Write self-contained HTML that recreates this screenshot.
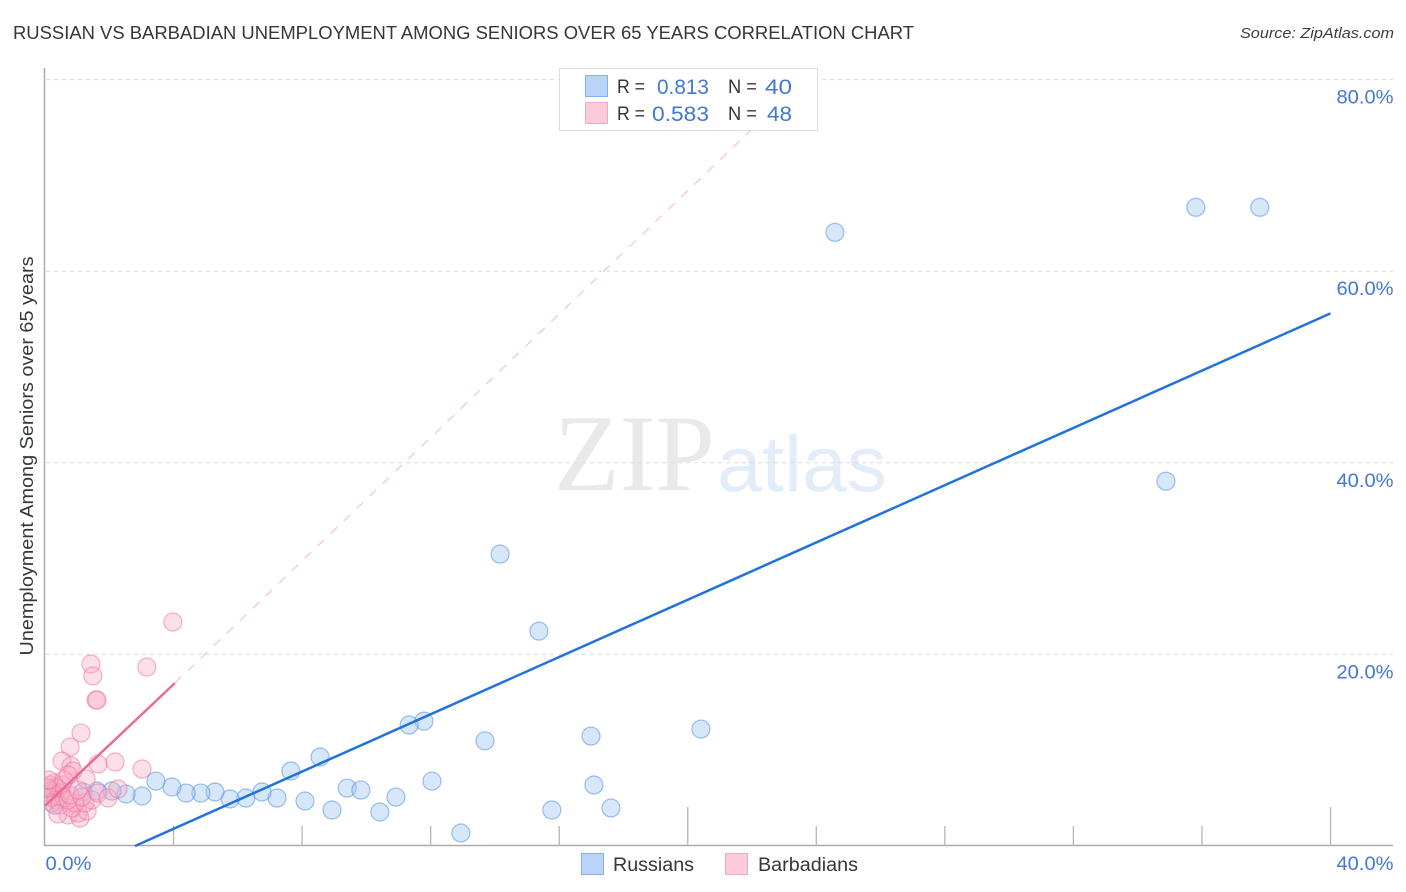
<!DOCTYPE html>
<html lang="en">
<head>
<meta charset="utf-8">
<title>Russian vs Barbadian Unemployment Among Seniors Over 65 Years Correlation Chart</title>
<style>
html,body{margin:0;padding:0;background:#fff;width:1406px;height:892px;overflow:hidden}
svg{display:block;font-family:"Liberation Sans",sans-serif}
</style>
</head>
<body>
<svg id="chart" width="1406" height="892" viewBox="0 0 1406 892" xmlns="http://www.w3.org/2000/svg">
  <defs>
    <clipPath id="plot-clip"><rect x="45" y="60" width="1350" height="786"/></clipPath>
  </defs>
  <text x="13" y="39" font-size="18.5" fill="#33373b" textLength="901" lengthAdjust="spacingAndGlyphs">RUSSIAN VS BARBADIAN UNEMPLOYMENT AMONG SENIORS OVER 65 YEARS CORRELATION CHART</text>
  <text x="1394" y="38" font-size="15" font-style="italic" fill="#3a3d40" text-anchor="end" textLength="154" lengthAdjust="spacingAndGlyphs">Source: ZipAtlas.com</text>

  <g>
    <text x="554" y="490" font-family="'Liberation Serif',serif" font-size="109" fill="#e9e9e9" textLength="161" lengthAdjust="spacingAndGlyphs">ZIP</text>
    <text x="717" y="491" font-size="79" fill="#e3ecf9" textLength="170" lengthAdjust="spacingAndGlyphs">atlas</text>
  </g>

  <g id="grid"></g>
  <g id="axes"></g>
  <g id="trend-dash"></g>
  <g id="pts-blue" clip-path="url(#plot-clip)"></g>
  <g id="pts-pink" clip-path="url(#plot-clip)"></g>
  <g id="trends"></g>
  <g id="labels"></g>

  <text transform="translate(33,456) rotate(-90)" font-size="18" fill="#33373b" text-anchor="middle" textLength="399" lengthAdjust="spacingAndGlyphs">Unemployment Among Seniors over 65 years</text>

  <g>
    <rect x="559.5" y="68.5" width="258" height="62" fill="#fff" fill-opacity="0.92" stroke="#dcdcdc" stroke-width="1"/>
    <rect x="585.5" y="75.5" width="22" height="21" fill="#b9d4f8" stroke="#85b0e8" stroke-width="1"/>
    <rect x="585.5" y="102.5" width="22" height="21" fill="#fccbdb" stroke="#f3a9c1" stroke-width="1"/>
    <text x="617" y="93" font-size="19" fill="#33373b" textLength="28" lengthAdjust="spacingAndGlyphs">R =</text>
    <text x="709" y="94" font-size="21" fill="#4278d4" text-anchor="end" textLength="52" lengthAdjust="spacingAndGlyphs">0.813</text>
    <text x="728" y="93" font-size="19" fill="#33373b" textLength="29" lengthAdjust="spacingAndGlyphs">N =</text>
    <text x="792" y="94" font-size="21" fill="#4278d4" text-anchor="end" textLength="27" lengthAdjust="spacingAndGlyphs">40</text>
    <text x="617" y="120" font-size="19" fill="#33373b" textLength="28" lengthAdjust="spacingAndGlyphs">R =</text>
    <text x="709" y="121" font-size="21" fill="#4278d4" text-anchor="end" textLength="57" lengthAdjust="spacingAndGlyphs">0.583</text>
    <text x="728" y="120" font-size="19" fill="#33373b" textLength="29" lengthAdjust="spacingAndGlyphs">N =</text>
    <text x="792" y="121" font-size="21" fill="#4278d4" text-anchor="end" textLength="25" lengthAdjust="spacingAndGlyphs">48</text>
  </g>

  <g>
    <rect x="581.5" y="853.5" width="22" height="21" fill="#b9d4f8" stroke="#85b0e8" stroke-width="1"/>
    <text x="613" y="871" font-size="19" fill="#33373b" textLength="81" lengthAdjust="spacingAndGlyphs">Russians</text>
    <rect x="725.5" y="853.5" width="22" height="21" fill="#fccbdb" stroke="#f3a9c1" stroke-width="1"/>
    <text x="758" y="871" font-size="19" fill="#33373b" textLength="100" lengthAdjust="spacingAndGlyphs">Barbadians</text>
  </g>
</svg>

<script>
var russiansX = [35.81,37.80,24.58,34.88,14.16,15.37,16.99,20.41,13.69,11.79,11.33,8.56,7.65,12.04,9.40,9.83,10.92,10.42,8.93,8.09,7.22,6.75,6.25,5.76,5.29,4.85,4.39,3.95,3.45,3.02,2.52,2.08,1.62,1.18,12.94,15.77,17.08,17.61,0.31,0.31];
var russiansY = [66.72,66.72,64.11,38.13,30.52,22.48,11.53,12.26,11.03,13.09,12.68,9.34,7.88,6.83,6.10,5.89,5.16,3.60,3.81,4.75,5.06,5.69,5.06,4.96,5.69,5.58,5.58,6.21,6.83,5.27,5.48,5.79,5.79,5.69,1.41,3.81,6.42,4.02,6.20,4.30];
var barbadiansX = [0.16,0.22,0.31,0.09,0.28,0.40,0.16,0.47,0.34,0.53,0.22,0.06,0.59,0.47,0.12,0.72,0.40,1.09,1.03,1.31,0.84,0.93,0.72,1.24,1.46,0.78,1.15,1.65,1.96,2.27,3.98,1.43,1.49,3.17,1.59,1.62,1.12,0.78,0.53,0.81,0.87,1.65,2.18,3.02,1.28,0.59,0.72,1.03];
var barbadiansY = [6.37,5.85,5.32,5.64,6.58,6.05,5.11,5.53,4.80,6.37,4.49,6.05,5.01,4.28,6.89,3.24,3.34,2.92,3.44,3.65,3.97,4.49,4.80,4.49,4.80,5.32,5.11,5.53,5.01,5.95,23.38,19.00,17.75,18.68,15.24,15.24,11.80,10.33,8.87,8.35,7.83,8.56,8.77,8.04,6.99,6.89,7.41,5.85];
var yTickValues = [20,40,60,80];
var yTickLabels = ["20.0%","40.0%","60.0%","80.0%"];
var xTickValues = [4,8,12,16,20,24,28,32,36,40];
var xEndLabels = ["0.0%","40.0%"];
var russiansTrendX = [2.8,40];
var russiansTrendY = [0,55.6];
var barbadiansTrendX = [0,4.04];
var barbadiansTrendY = [4.2,17.0];
var barbadiansExtendX = [4.04,23.6];
var barbadiansExtendY = [17.0,80];

var NS = "http://www.w3.org/2000/svg";
function sx(v){ return 45 + v * 32.1375; }
function sy(v){ return 846 - v * 9.58; }
function add(parent, tag, attrs){
  var el = document.createElementNS(NS, tag);
  for (var k in attrs) el.setAttribute(k, attrs[k]);
  document.getElementById(parent).appendChild(el);
  return el;
}

yTickValues.forEach(function(v, i){
  var g = add("grid", "line", {x1:46, x2:1393, y1:sy(v), y2:sy(v), stroke:"#dcdcdc", "stroke-width":1, "stroke-dasharray":"4 4"});
  
  
  var t = add("labels", "text", {x:1393.5, y:sy(v)+24, "font-size":19.5, fill:"#4278d4", "text-anchor":"end", textLength:57, lengthAdjust:"spacingAndGlyphs"});
  t.textContent = yTickLabels[i];
  
  
});

var yAxis = add("axes", "line", {x1:44.5, x2:44.5, y1:68, y2:846, stroke:"#ababab", "stroke-width":1.5});


var xAxis = add("axes", "line", {x1:44, x2:1393, y1:845.5, y2:845.5, stroke:"#ababab", "stroke-width":1.5});


xTickValues.forEach(function(v, i){
  var top = (i % 5 === 4) ? 807 : 826;
  var tk = add("axes", "line", {x1:sx(v), x2:sx(v), y1:top, y2:846, stroke:"#b5b5b5", "stroke-width":1.3});
  
  
});

var x0 = add("labels", "text", {x:45.5, y:870, "font-size":19.5, fill:"#4278d4", textLength:46, lengthAdjust:"spacingAndGlyphs"});
x0.textContent = xEndLabels[0];


var x1 = add("labels", "text", {x:1393.5, y:870, "font-size":19.5, fill:"#4278d4", "text-anchor":"end", textLength:57, lengthAdjust:"spacingAndGlyphs"});
x1.textContent = xEndLabels[1];



var dash = add("trend-dash", "line", {x1:sx(barbadiansExtendX[0]), y1:sy(barbadiansExtendY[0]), x2:sx(barbadiansExtendX[1]), y2:sy(barbadiansExtendY[1]), stroke:"#f3b6c9", "stroke-width":1, "stroke-dasharray":"9 9"});



russiansX.forEach(function(v, i){
  var c = add("pts-blue", "circle", {cx:sx(v), cy:sy(russiansY[i])+0.5, r:9, fill:"rgba(160,197,243,0.42)", stroke:"rgba(80,140,225,0.55)", "stroke-width":1.2});
  
  
});
barbadiansX.forEach(function(v, i){
  var c = add("pts-pink", "circle", {cx:sx(v), cy:sy(barbadiansY[i]), r:9, fill:"rgba(250,170,195,0.38)", stroke:"rgba(236,110,155,0.52)", "stroke-width":1.2});
  
  
});

var tb = add("trends", "line", {x1:sx(russiansTrendX[0]), y1:sy(russiansTrendY[0]), x2:sx(russiansTrendX[1]), y2:sy(russiansTrendY[1]), stroke:"#2272dc", "stroke-width":2.5});


var tp = add("trends", "line", {x1:sx(barbadiansTrendX[0]), y1:sy(barbadiansTrendY[0]), x2:sx(barbadiansTrendX[1]), y2:sy(barbadiansTrendY[1]), stroke:"#ec6a94", "stroke-width":2.5});


</script>
</body>
</html>
